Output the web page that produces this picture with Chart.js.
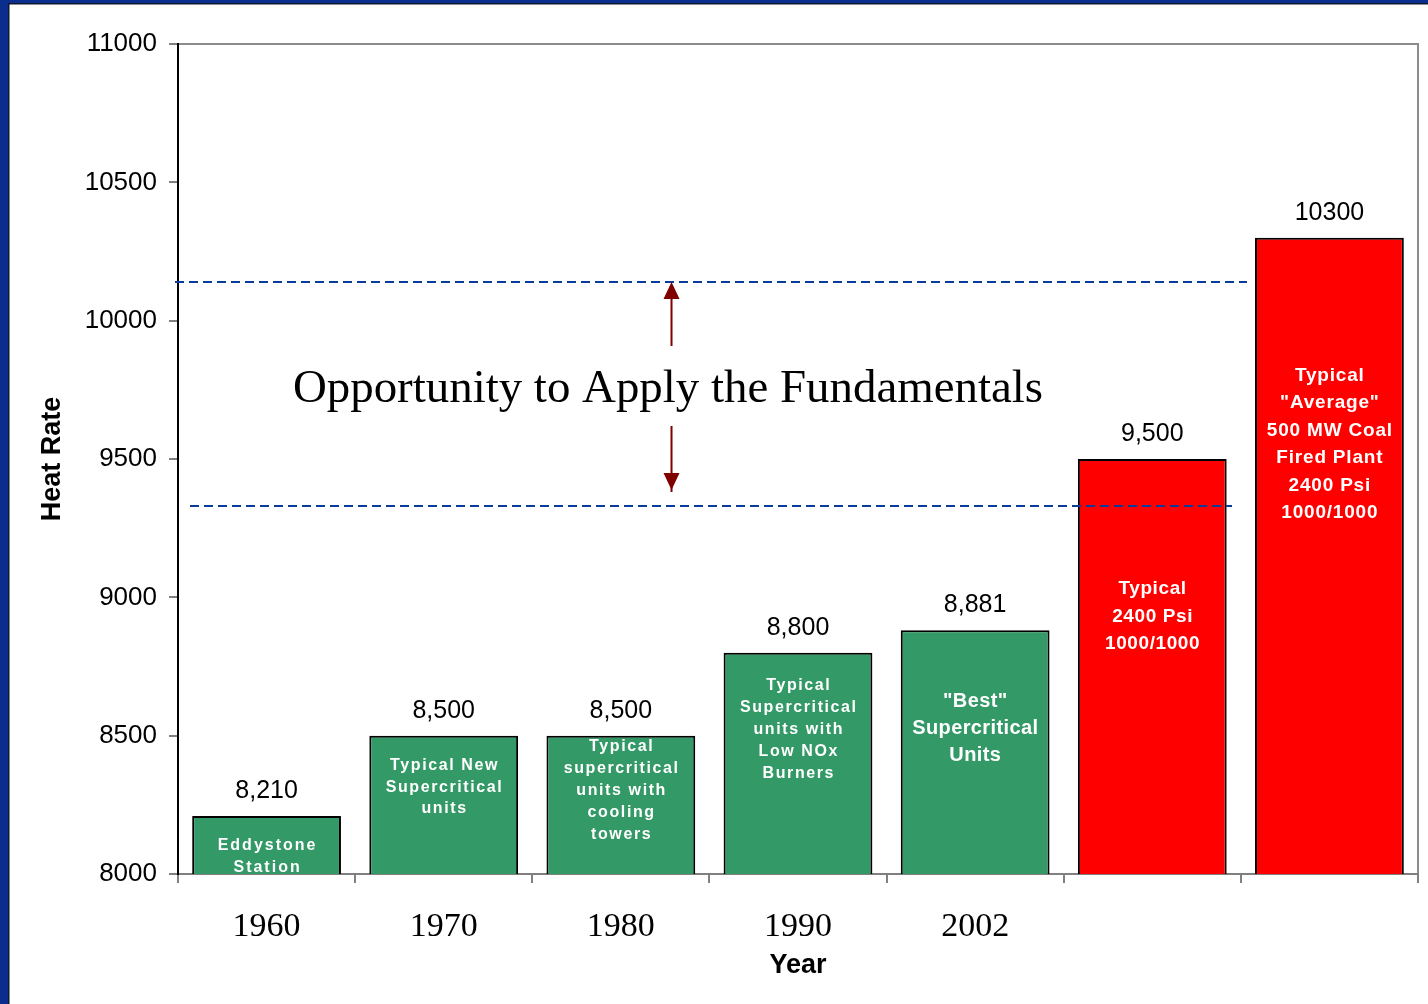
<!DOCTYPE html>
<html>
<head>
<meta charset="utf-8">
<script src="https://cdn.jsdelivr.net/npm/chart.js@4.4.1/dist/chart.umd.min.js"></script>
<style>
  html, body { margin: 0; padding: 0; background: #fff; }
  #wrap { width: 1428px; height: 1004px; position: relative; }
</style>
</head>
<body>
<div id="wrap"><canvas id="chart" width="1428" height="1004"></canvas></div>
<script>
// data
const years = ["1960", "1970", "1980", "1990", "2002", "", ""];
const heatRates = [8210, 8500, 8500, 8800, 8881, 9500, 10300];
const valueLabels = ["8,210", "8,500", "8,500", "8,800", "8,881", "9,500", "10300"];
const barNotes = [
  ["Eddystone", "Station"],
  ["Typical New", "Supercritical", "units"],
  ["Typical", "supercritical", "units with", "cooling", "towers"],
  ["Typical", "Supercritical", "units with", "Low NOx", "Burners"],
  ["\"Best\"", "Supercritical", "Units"],
  ["Typical", "2400 Psi", "1000/1000"],
  ["Typical", "\"Average\"", "500 MW Coal", "Fired Plant", "2400 Psi", "1000/1000"]
];
const yTicks = [8000, 8500, 9000, 9500, 10000, 10500, 11000];
const opportunityBand = [10140, 9330];
const opportunityText = "Opportunity to Apply the Fundamentals";

const GREEN = "#339966";
const RED = "#ff0000";
const barColors = heatRates.map((v, i) => i < 5 ? GREEN : RED);

// note styles: first line offset below bar top, font size, line gap, letter spacing
const noteStyle = [
  { top: 30, size: 16, gap: 22, sp: 2 },
  { top: 30, size: 16, gap: 21.5, sp: 1.6 },
  { top: 11, size: 16, gap: 22, sp: 1.6 },
  { top: 33, size: 16, gap: 22, sp: 1.6 },
  { top: 71, size: 20, gap: 27, sp: 0.4 },
  { top: 130, size: 19, gap: 27.5, sp: 0.6 },
  { top: 138, size: 19, gap: 27.4, sp: 0.8 }
];

const frame = {
  id: "frame",
  beforeDraw(chart) {
    const ctx = chart.ctx;
    ctx.save();
    ctx.fillStyle = "#fff";
    ctx.fillRect(0, 0, chart.width, chart.height);
    ctx.fillStyle = "#0b2e8e";
    ctx.fillRect(0, 0, 8, chart.height);
    ctx.fillRect(0, 0, chart.width, 3);
    ctx.fillStyle = "#101830";
    ctx.fillRect(8, 3, 1.5, chart.height);
    ctx.fillRect(8, 3, chart.width, 1.5);
    // plot box top/right
    const a = chart.chartArea;
    ctx.strokeStyle = "#8c8c8c";
    ctx.lineWidth = 2;
    ctx.beginPath();
    ctx.moveTo(a.left, a.top);
    ctx.lineTo(a.right, a.top);
    ctx.lineTo(a.right, a.bottom);
    ctx.stroke();
    ctx.restore();
  },
  afterDatasetsDraw(chart) {
    const ctx = chart.ctx;
    const y = chart.scales.y;
    const a = chart.chartArea;
    const meta = chart.getDatasetMeta(0);
    ctx.save();

    // dashed band lines
    ctx.strokeStyle = "#0a3c9c";
    ctx.lineWidth = 2;
    ctx.setLineDash([9, 5]);
    const yTop = y.getPixelForValue(opportunityBand[0]);
    const yBot = y.getPixelForValue(opportunityBand[1]);
    ctx.beginPath();
    ctx.moveTo(a.left - 3, yTop);
    ctx.lineTo(1247, yTop);
    ctx.moveTo(190, yBot);
    ctx.lineTo(1232, yBot);
    ctx.stroke();
    ctx.setLineDash([]);

    // text and arrows
    const ax = a.left + (a.right - a.left) * 0.398;
    const mid = (yTop + yBot) / 2 - 8;
    ctx.fillStyle = "#000";
    ctx.font = "45px 'Liberation Serif', serif";
    ctx.textAlign = "center";
    ctx.textBaseline = "middle";
    const w = ctx.measureText(opportunityText).width;
    const size = 45 * 751 / w;
    ctx.font = size.toFixed(1) + "px 'Liberation Serif', serif";
    ctx.fillText(opportunityText, 668, mid + 4);

    ctx.strokeStyle = "#800000";
    ctx.fillStyle = "#800000";
    ctx.lineWidth = 2;
    ctx.beginPath();
    ctx.moveTo(ax, mid - 40);
    ctx.lineTo(ax, yTop + 14);
    ctx.moveTo(ax, mid + 40);
    ctx.lineTo(ax, yBot - 14);
    ctx.stroke();
    ctx.beginPath();
    ctx.moveTo(ax, yTop);
    ctx.lineTo(ax - 8, yTop + 17);
    ctx.lineTo(ax + 8, yTop + 17);
    ctx.closePath();
    ctx.moveTo(ax, yBot - 16);
    ctx.lineTo(ax - 8, yBot - 33);
    ctx.lineTo(ax + 8, yBot - 33);
    ctx.closePath();
    ctx.fill();

    // value labels and notes
    meta.data.forEach((bar, i) => {
      ctx.fillStyle = "#000";
      ctx.font = "25px 'Liberation Sans', Arial, sans-serif";
      ctx.textAlign = "center";
      ctx.textBaseline = "middle";
      ctx.letterSpacing = "0px";
      ctx.fillText(valueLabels[i], bar.x, bar.y - 25);

      const st = noteStyle[i];
      ctx.fillStyle = "#fff";
      ctx.font = "bold " + st.size + "px 'Liberation Sans', Arial, sans-serif";
      ctx.letterSpacing = st.sp + "px";
      barNotes[i].forEach((line, k) => {
        ctx.fillText(line, bar.x + st.sp / 2, bar.y + st.top + k * st.gap);
      });
    });
    ctx.restore();
  }
};

new Chart(document.getElementById("chart"), {
  type: "bar",
  data: {
    labels: years,
    datasets: [{
      data: heatRates,
      backgroundColor: barColors,
      borderColor: "#000",
      borderWidth: 2,
      borderSkipped: false,
      categoryPercentage: 1,
      barPercentage: 0.84
    }]
  },
  options: {
    responsive: false,
    animation: false,
    devicePixelRatio: 1,
    layout: { padding: { left: 0, top: 44, right: 10, bottom: 0 } },
    plugins: { legend: { display: false }, tooltip: { enabled: false } },
    scales: {
      x: {
        afterFit: s => { s.height = 130; },
        grid: { offset: true, drawOnChartArea: false, tickLength: 9, color: "#808080", lineWidth: 2 },
        border: { color: "#808080", width: 2 },
        ticks: { color: "#000", padding: 24, font: { family: "'Liberation Serif', serif", size: 34 } },
        title: {
          display: true, text: "Year", color: "#000",
          font: { family: "'Liberation Sans', Arial, sans-serif", size: 27, weight: "bold" },
          padding: { top: 0, bottom: 22 }
        }
      },
      y: {
        min: 8000,
        max: 11000,
        afterFit: s => { s.width = 178; },
        afterBuildTicks: s => { s.ticks = yTicks.map(v => ({ value: v })); },
        grid: { drawOnChartArea: false, tickLength: 9, color: "#808080", lineWidth: 2 },
        border: { color: "#000", width: 2 },
        ticks: {
          color: "#000", padding: 12,
          font: { family: "'Liberation Sans', Arial, sans-serif", size: 26 },
          callback: v => String(v)
        },
        title: {
          display: true, text: "Heat Rate", color: "#000",
          font: { family: "'Liberation Sans', Arial, sans-serif", size: 27, weight: "bold" },
          padding: { top: 36, bottom: 0 }
        }
      }
    }
  },
  plugins: [frame]
});
</script>
</body>
</html>
